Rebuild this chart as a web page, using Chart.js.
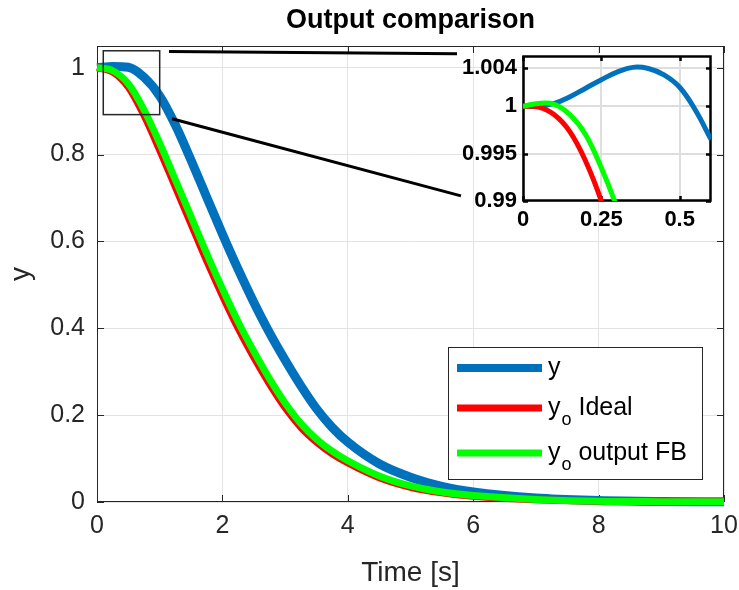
<!DOCTYPE html>
<html>
<head>
<meta charset="utf-8">
<script src="https://cdn.jsdelivr.net/npm/chart.js@4.4.1/dist/chart.umd.min.js"></script>
<style>
  html, body { margin: 0; padding: 0; background: #fff; }
  #wrap { position: relative; width: 739px; height: 590px; }
  #main { position: absolute; left: 0; top: 0; }
  #zoom { position: absolute; left: 455px; top: 45px; }
</style>
</head>
<body>
<div id="wrap">
  <canvas id="main" width="739" height="590"></canvas>
  <canvas id="zoom" width="270" height="195"></canvas>
</div>
<script>
// main axes data
const time   = [0, 0.25, 0.5, 0.75, 1, 1.25, 1.5, 1.75, 2, 2.25, 2.5, 2.75, 3, 3.25, 3.5, 3.75, 4, 4.5, 5, 5.5, 6, 7, 8, 9, 10];
const yOut   = [1.0, 1.003, 1.001, 0.978, 0.935, 0.868, 0.787, 0.702, 0.617, 0.536, 0.46, 0.39, 0.327, 0.268, 0.215, 0.172, 0.138, 0.088, 0.057, 0.036, 0.023, 0.009, 0.0035, 0.0013, 0.0005];
const yIdeal = [1.0, 0.99, 0.955, 0.89, 0.81, 0.725, 0.64, 0.555, 0.475, 0.40, 0.333, 0.272, 0.217, 0.172, 0.138, 0.111, 0.09, 0.056, 0.034, 0.021, 0.013, 0.005, 0.002, 0.0007, 0.0003];
const yFB    = [1.0, 0.993, 0.963, 0.903, 0.826, 0.742, 0.657, 0.572, 0.491, 0.415, 0.347, 0.284, 0.228, 0.181, 0.145, 0.117, 0.095, 0.06, 0.037, 0.023, 0.015, 0.006, 0.002, 0.0008, 0.0003];

// zoomed inset data
const zTime  = [0, 0.05, 0.1, 0.15, 0.2, 0.25, 0.3, 0.35, 0.4, 0.45, 0.5, 0.55, 0.6];
const zOut   = [1.0, 1.0, 1.0003, 1.001, 1.0019, 1.0028, 1.0036, 1.0041, 1.00398, 1.0033, 1.002, 0.9996, 0.9965];
const zIdeal = [1.0, 0.9999, 0.9991, 0.9973, 0.9942, 0.990, 0.9846, 0.978];
const zFB    = [1.0, 1.0003, 1.0002, 0.9991, 0.997, 0.9935, 0.9893, 0.9843];

const names  = ['y', 'y_o Ideal', 'y_o output FB'];
const colors = ['#0072BD', '#FF0000', '#00FF00'];

const zXTicks = [0, 0.25, 0.5];
const zYTicks = [0.99, 0.995, 1, 1.004];

// zoom rectangle + connector lines, in main axes units
const zoomRect = [0.1, 0.892, 1.0, 1.039];
const connectors = [
  [1.148, 1.0376, 5.742, 1.0323],
  [1.196, 0.8825, 5.805, 0.705]
];

const FONT = "'Liberation Sans', Arial, Helvetica, sans-serif";
Chart.defaults.font.family = FONT;

const pts = (xs, ys) => ys.map((y, i) => ({ x: xs[i], y: y }));
const fmt = v => String(+v.toFixed(4));
const noPad = s => { s.paddingLeft = 0; s.paddingRight = 0; s.paddingTop = 0; s.paddingBottom = 0; };

// box around the axes with inward ticks on all sides
const boxTicks = {
  id: 'boxTicks',
  beforeDatasetsDraw(chart, args, o) {
    const { ctx, chartArea: a, scales: { x, y } } = chart;
    ctx.save();
    ctx.strokeStyle = o.color;
    ctx.lineWidth = o.width;
    ctx.strokeRect(a.left + 0.5, a.top + 0.5, a.right - a.left - 1, a.bottom - a.top - 1);
    ctx.beginPath();
    x.ticks.forEach(t => {
      const px = Math.round(x.getPixelForValue(t.value)) + 0.5;
      ctx.moveTo(px, a.bottom); ctx.lineTo(px, a.bottom - o.len);
      ctx.moveTo(px, a.top); ctx.lineTo(px, a.top + o.len);
    });
    y.ticks.forEach(t => {
      const py = Math.round(y.getPixelForValue(t.value)) + 0.5;
      ctx.moveTo(a.left, py); ctx.lineTo(a.left + o.len, py);
      ctx.moveTo(a.right, py); ctx.lineTo(a.right - o.len, py);
    });
    ctx.stroke();
    ctx.restore();
  }
};

const whiteArea = {
  id: 'whiteArea',
  beforeDraw(chart) {
    const { ctx, chartArea: a } = chart;
    ctx.save();
    ctx.fillStyle = '#fff';
    ctx.fillRect(a.left, a.top, a.right - a.left, a.bottom - a.top);
    ctx.restore();
  }
};

// zoom box and lines pointing at the inset
const zoomMarks = {
  id: 'zoomMarks',
  afterDatasetsDraw(chart) {
    const { ctx, scales: { x, y } } = chart;
    ctx.save();
    ctx.strokeStyle = '#262626';
    ctx.lineWidth = 1.5;
    const x0 = x.getPixelForValue(zoomRect[0]), y0 = y.getPixelForValue(zoomRect[1]);
    const x1 = x.getPixelForValue(zoomRect[2]), y1 = y.getPixelForValue(zoomRect[3]);
    ctx.strokeRect(x0, y1, x1 - x0, y0 - y1);
    ctx.strokeStyle = '#000';
    ctx.lineWidth = 3;
    connectors.forEach(c => {
      ctx.beginPath();
      ctx.moveTo(x.getPixelForValue(c[0]), y.getPixelForValue(c[1]));
      ctx.lineTo(x.getPixelForValue(c[2]), y.getPixelForValue(c[3]));
      ctx.stroke();
    });
    ctx.restore();
  }
};

// matlab style legend inside the axes, with subscripts
const boxLegend = {
  id: 'boxLegend',
  afterDraw(chart, args, o) {
    const { ctx, chartArea: a } = chart;
    const L = a.right - o.right - o.w, T = a.bottom - o.bottom - o.h;
    ctx.save();
    ctx.fillStyle = '#fff';
    ctx.fillRect(L, T, o.w, o.h);
    ctx.strokeStyle = '#262626';
    ctx.lineWidth = 1;
    ctx.strokeRect(L + 0.5, T + 0.5, o.w, o.h);
    chart.data.datasets.forEach((ds, i) => {
      const cy = T + o.rows[i];
      ctx.strokeStyle = ds.borderColor;
      ctx.lineWidth = o.widths[i];
      ctx.beginPath();
      ctx.moveTo(L + 9, cy); ctx.lineTo(L + 94, cy);
      ctx.stroke();
      ctx.fillStyle = '#000';
      ctx.textBaseline = 'alphabetic';
      let tx = L + 100;
      const k = ds.label.indexOf('_');
      const base = k < 0 ? ds.label : ds.label.slice(0, k);
      ctx.font = '25px ' + FONT;
      ctx.fillText(base, tx, cy + 7);
      tx += ctx.measureText(base).width;
      if (k >= 0) {
        const sub = ds.label.charAt(k + 1);
        const rest = ds.label.slice(k + 2);
        ctx.font = '18px ' + FONT;
        ctx.fillText(sub, tx + 1, cy + 17);
        tx += ctx.measureText(sub).width + 1;
        ctx.font = '25px ' + FONT;
        ctx.fillText(rest, tx, cy + 7);
      }
    });
    ctx.restore();
  }
};

// order: lower value is painted last, so green ends up on top like the original
new Chart(document.getElementById('main'), {
  type: 'line',
  data: {
    datasets: [
      { label: names[0], data: pts(time, yOut), borderColor: colors[0], borderWidth: 9, order: 2 },
      { label: names[1], data: pts(time, yIdeal), borderColor: colors[1], borderWidth: 7, order: 1 },
      { label: names[2], data: pts(time, yFB), borderColor: colors[2], borderWidth: 7, order: 0 }
    ]
  },
  options: {
    responsive: false,
    animation: false,
    events: [],
    devicePixelRatio: 1,
    layout: { padding: { top: 0, right: 15, left: 0, bottom: 0 } },
    elements: {
      point: { radius: 0 },
      line: { cubicInterpolationMode: 'monotone', borderCapStyle: 'butt', borderJoinStyle: 'round' }
    },
    datasets: { line: { clip: 8 } },
    scales: {
      x: {
        type: 'linear', min: 0, max: 10,
        ticks: { stepSize: 2, color: '#262626', font: { size: 25 }, padding: 9, maxRotation: 0, callback: fmt },
        grid: { color: '#e3e3e3', drawTicks: false },
        border: { display: false },
        title: { display: true, text: 'Time [s]', color: '#262626', font: { size: 28 }, padding: { top: 0, bottom: 0 } },
        afterFit(s) { s.height = 88; noPad(s); }
      },
      y: {
        type: 'linear', min: 0, max: 1.05,
        ticks: { stepSize: 0.2, includeBounds: false, color: '#262626', font: { size: 25 }, padding: 12, callback: fmt },
        grid: { color: '#e3e3e3', drawTicks: false },
        border: { display: false },
        title: { display: true, text: 'y', color: '#262626', font: { size: 28 }, padding: { top: 4, bottom: 4 } },
        afterFit(s) { s.width = 97; noPad(s); }
      }
    },
    plugins: {
      legend: { display: false },
      tooltip: { enabled: false },
      title: {
        display: true, text: 'Output comparison', color: '#000', fullSize: false,
        font: { size: 27, weight: 'bold' }, padding: { top: 4, bottom: 9.6 }
      },
      boxTicks: { color: '#262626', width: 1, len: 7 },
      boxLegend: { w: 254, h: 132, right: 22, bottom: 23, rows: [21, 61, 106], widths: [8, 7, 7] }
    }
  },
  plugins: [boxTicks, zoomMarks, boxLegend]
});

new Chart(document.getElementById('zoom'), {
  type: 'line',
  data: {
    datasets: [
      { label: names[0], data: pts(zTime, zOut), borderColor: colors[0], borderWidth: 5, order: 2 },
      { label: names[1], data: pts(zTime, zIdeal), borderColor: colors[1], borderWidth: 5, order: 1 },
      { label: names[2], data: pts(zTime, zFB), borderColor: colors[2], borderWidth: 5, order: 0 }
    ]
  },
  options: {
    responsive: false,
    animation: false,
    events: [],
    devicePixelRatio: 1,
    layout: { padding: { top: 11, right: 14, left: 0, bottom: 0 } },
    elements: {
      point: { radius: 0 },
      line: { tension: 0.4, borderCapStyle: 'butt' }
    },
    scales: {
      x: {
        type: 'linear', min: 0, max: 0.6,
        afterBuildTicks(s) { s.ticks = zXTicks.map(v => ({ value: v })); },
        ticks: { autoSkip: false, color: '#000', font: { size: 22, weight: 'bold' }, padding: 6, maxRotation: 0, callback: fmt },
        grid: { color: '#dedede', lineWidth: 2, drawTicks: false },
        border: { display: false },
        afterFit(s) { s.height = 39; noPad(s); }
      },
      y: {
        type: 'linear', min: 0.99, max: 1.0053,
        afterBuildTicks(s) { s.ticks = zYTicks.map(v => ({ value: v })); },
        ticks: { autoSkip: false, color: '#000', font: { size: 22, weight: 'bold' }, padding: 6, callback: fmt },
        grid: { color: '#dedede', lineWidth: 2, drawTicks: false },
        border: { display: false },
        afterFit(s) { s.width = 68; noPad(s); }
      }
    },
    plugins: {
      legend: { display: false },
      tooltip: { enabled: false },
      title: { display: false },
      boxTicks: { color: '#000', width: 2.5, len: 5 }
    }
  },
  plugins: [whiteArea, boxTicks]
});
</script>
</body>
</html>
